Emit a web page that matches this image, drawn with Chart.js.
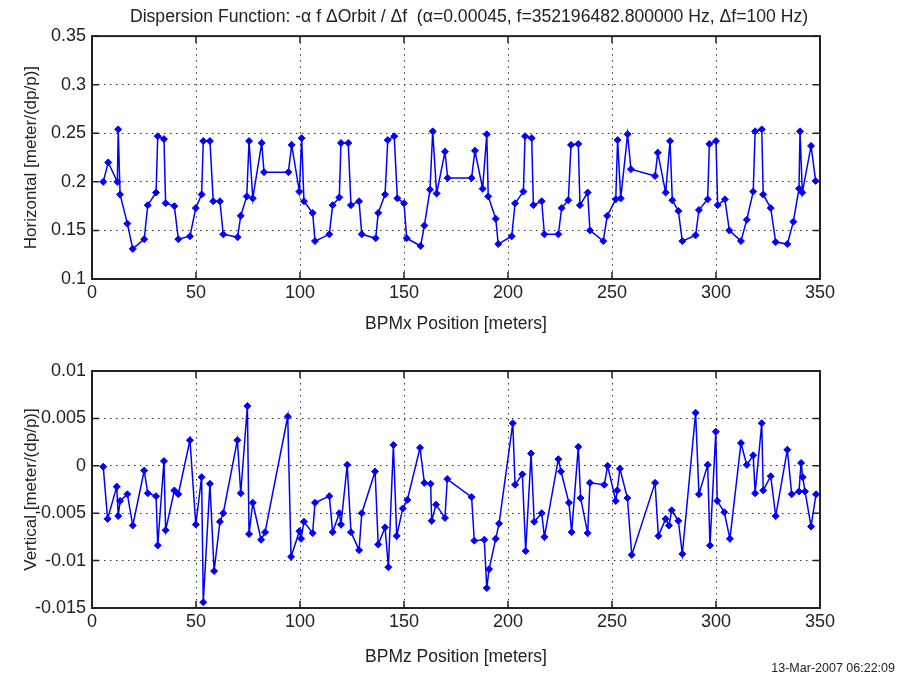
<!DOCTYPE html>
<html>
<head>
<meta charset="utf-8">
<script src="https://cdn.jsdelivr.net/npm/chart.js@4"></script>
<style>
  html, body { margin: 0; padding: 0; background: #fff; }
  #wrap { position: relative; width: 899px; height: 681px; }
  #topChart { position: absolute; left: 0; top: 0; }
  #botChart { position: absolute; left: 0; top: 340px; }
  #stamp { position: absolute; right: 4px; top: 661px; font: 12.5px "Liberation Sans", Arial, sans-serif; color: #222; }
</style>
</head>
<body>
<div id="wrap">
  <canvas id="topChart" width="899" height="340"></canvas>
  <canvas id="botChart" width="899" height="341"></canvas>
  <div id="stamp">13-Mar-2007 06:22:09</div>
</div>
<script>
// BPM positions [m] and dispersion
const posX = [5.4,7.8,12.2,12.6,13.5,17.0,19.6,25.1,26.8,30.8,
  31.6,34.6,35.4,39.6,41.5,47.1,49.9,52.7,53.5,56.7,
  58.3,61.5,63.1,70.0,71.5,74.4,75.5,77.3,81.6,82.7,
  94.4,96.0,99.7,100.8,101.9,106.1,107.2,114.1,115.7,118.9,
  119.7,123.2,124.5,128.4,129.7,136.4,137.6,140.9,142.2,145.3,
  146.8,150.0,151.3,158.0,159.8,162.5,163.8,165.7,169.7,171.0,
  182.5,184.1,187.8,189.8,190.5,194.1,195.3,201.8,203.4,207.4,
  208.2,211.4,212.2,216.2,217.5,224.2,225.8,229.0,230.3,233.8,
  234.6,238.3,239.4,245.8,247.7,251.8,252.7,254.2,257.5,259.1,
  270.7,272.0,275.8,277.9,279.0,281.9,283.8,290.2,291.8,296.0,
  296.8,300.0,300.8,304.3,306.4,312.0,314.8,317.9,318.8,322.0,
  322.7,326.3,328.7,334.3,337.2,339.9,340.4,341.5,345.7,347.9];
const horizontal = [0.200,0.220,0.200,0.254,0.187,0.157,0.131,0.141,0.176,0.189,
  0.247,0.244,0.178,0.175,0.141,0.144,0.173,0.187,0.242,0.242,
  0.180,0.180,0.146,0.143,0.165,0.185,0.242,0.183,0.240,0.210,
  0.210,0.238,0.190,0.245,0.180,0.168,0.139,0.146,0.176,0.184,
  0.240,0.240,0.176,0.180,0.146,0.142,0.168,0.187,0.243,0.247,
  0.183,0.178,0.142,0.134,0.155,0.192,0.252,0.188,0.231,0.204,
  0.204,0.232,0.193,0.249,0.185,0.162,0.136,0.144,0.178,0.190,
  0.247,0.245,0.176,0.180,0.146,0.146,0.173,0.181,0.238,0.239,
  0.176,0.189,0.150,0.139,0.165,0.182,0.243,0.183,0.249,0.213,
  0.206,0.230,0.189,0.242,0.181,0.170,0.139,0.145,0.171,0.182,
  0.239,0.242,0.176,0.182,0.150,0.139,0.161,0.190,0.252,0.254,
  0.187,0.173,0.138,0.136,0.159,0.193,0.252,0.189,0.237,0.201];

const posZ = [5.4,7.5,11.9,12.6,13.5,17.0,19.6,25.1,26.8,30.8,
  31.6,34.6,35.4,39.6,41.5,47.1,49.9,52.7,53.5,56.7,
  58.7,61.5,63.1,69.9,71.5,74.7,75.5,77.3,81.3,83.2,
  94.1,95.7,99.7,100.5,101.9,106.1,107.2,114.1,115.7,118.9,
  119.7,122.7,124.5,128.4,129.7,136.1,137.6,140.9,142.5,144.9,
  146.5,149.4,151.6,157.7,159.8,162.8,163.3,165.4,169.7,170.8,
  182.5,183.8,188.6,189.8,190.9,194.1,195.7,202.3,203.4,206.9,
  208.5,211.1,212.6,216.2,217.5,224.2,225.5,229.3,230.6,233.8,
  234.9,238.3,239.4,246.3,247.9,251.8,252.5,253.8,257.4,259.5,
  270.7,272.3,275.8,277.4,278.7,281.9,283.8,290.2,291.8,296.0,
  297.1,299.9,300.6,304.0,306.7,312.0,314.8,317.9,318.8,322.0,
  322.7,326.3,328.7,334.3,336.4,339.9,340.9,341.7,342.8,345.7,348.1];
const vertical = [-0.0001,-0.0056,-0.0022,-0.0053,-0.0037,-0.0030,-0.0063,-0.0005,-0.0029,-0.0032,
  -0.0084,0.0005,-0.0068,-0.0026,-0.0030,0.0027,-0.0062,-0.0012,-0.0144,-0.0019,
  -0.0111,-0.0059,-0.0050,0.0027,-0.0029,0.0063,-0.0072,-0.0039,-0.0078,-0.0070,
  0.0052,-0.0096,-0.0069,-0.0077,-0.0059,-0.0071,-0.0039,-0.0032,-0.0070,-0.0050,
  -0.0062,0.0001,-0.0070,-0.0089,-0.0050,-0.0006,-0.0083,-0.0065,-0.0107,0.0022,
  -0.0074,-0.0045,-0.0036,0.0019,-0.0018,-0.0019,-0.0058,-0.0041,-0.0055,-0.0014,
  -0.0033,-0.0079,-0.0078,-0.0129,-0.0109,-0.0077,-0.0061,0.0045,-0.0020,-0.0009,
  -0.0090,0.0013,-0.0059,-0.0050,-0.0075,0.0007,-0.0006,-0.0039,-0.0070,0.0020,
  -0.0034,-0.0071,-0.0018,-0.0020,0.0000,-0.0037,-0.0026,-0.0003,-0.0034,-0.0094,
  -0.0018,-0.0074,-0.0056,-0.0063,-0.0047,-0.0058,-0.0093,0.0056,-0.0030,0.0001,
  -0.0084,0.0036,-0.0037,-0.0049,-0.0077,0.0024,0.0001,0.0011,-0.0029,0.0045,
  -0.0026,-0.0011,-0.0053,0.0017,-0.0030,-0.0027,0.0003,-0.0012,-0.0027,-0.0064,-0.0030];

const xTicks = [0, 50, 100, 150, 200, 250, 300, 350];
const xTickLabels = ["0", "50", "100", "150", "200", "250", "300", "350"];
const yTicksTop = [0.1, 0.15, 0.2, 0.25, 0.3, 0.35];
const yTickLabelsTop = ["0.1", "0.15", "0.2", "0.25", "0.3", "0.35"];
const yTicksBot = [-0.015, -0.01, -0.005, 0, 0.005, 0.01];
const yTickLabelsBot = ["-0.015", "-0.01", "-0.005", "0", "0.005", "0.01"];

const FONT = "'Liberation Sans', Arial, sans-serif";
const INK = "#222";

// MATLAB style box with inward tick marks
const boxPlugin = {
    id: "box",
    afterLayout(chart) {
        // title sits a bit right of the plot centre in the original
        const t = chart.titleBlock;
        if (t && t.options.display) t.left += 26;
    },
    afterDraw(chart) {
        const { ctx, chartArea: a, scales } = chart;
        ctx.save();
        ctx.strokeStyle = INK;
        ctx.lineWidth = 1.5;
        ctx.beginPath();
        scales.x.ticks.forEach(t => {
            const px = scales.x.getPixelForValue(t.value);
            ctx.moveTo(px, a.bottom); ctx.lineTo(px, a.bottom - 7);
            ctx.moveTo(px, a.top);    ctx.lineTo(px, a.top + 7);
        });
        scales.y.ticks.forEach(t => {
            const py = scales.y.getPixelForValue(t.value);
            ctx.moveTo(a.left, py);  ctx.lineTo(a.left + 7, py);
            ctx.moveTo(a.right, py); ctx.lineTo(a.right - 7, py);
        });
        ctx.stroke();
        ctx.lineWidth = 2;
        ctx.strokeRect(a.left, a.top, a.right - a.left, a.bottom - a.top);
        ctx.restore();
    }
};

function makeChart(id, xs, ys, opt) {
    const ctx = document.getElementById(id).getContext("2d");
    return new Chart(ctx, {
        type: "line",
        data: {
            datasets: [{
                data: xs.map((x, i) => ({ x, y: ys[i] })),
                borderColor: "#0000ff",
                backgroundColor: "#0000ff",
                borderWidth: 1.5,
                pointStyle: "rectRot",
                pointRadius: 3.5,
                pointBorderWidth: 1,
                tension: 0
            }]
        },
        options: {
            responsive: false,
            animation: false,
            layout: { padding: { left: 0, right: 79, top: opt.padTop, bottom: 0 } },
            plugins: {
                legend: { display: false },
                tooltip: { enabled: false },
                title: opt.title ? {
                    display: true,
                    fullSize: false,
                    text: opt.title,
                    color: INK,
                    font: { family: FONT, size: 17.6, weight: "normal" },
                    padding: { top: 7, bottom: 8 }
                } : { display: false }
            },
            scales: {
                x: {
                    type: "linear",
                    min: 0, max: 350,
                    afterBuildTicks: s => { s.ticks = xTicks.map(v => ({ value: v })); },
                    afterFit: s => { s.height = opt.xHeight; },
                    ticks: {
                        color: INK, padding: 3,
                        font: { family: FONT, size: 18 },
                        callback: (v, i) => xTickLabels[i]
                    },
                    grid: { color: "#333", lineWidth: 1, drawTicks: false },
                    border: { display: false, dash: [1.5, 4.5] },
                    title: {
                        display: true, text: opt.xTitle, color: INK,
                        font: { family: FONT, size: 17.5 },
                        padding: { top: 0, bottom: opt.xTitlePad }
                    }
                },
                y: {
                    min: opt.yMin, max: opt.yMax,
                    afterBuildTicks: s => { s.ticks = opt.yTicks.map(v => ({ value: v })); },
                    afterFit: s => { s.width = 92; },
                    ticks: {
                        color: INK, padding: 6,
                        font: { family: FONT, size: 18 },
                        callback: (v, i) => opt.yLabels[i]
                    },
                    grid: { color: "#333", lineWidth: 1, drawTicks: false },
                    border: { display: false, dash: [1.5, 4.5] },
                    title: {
                        display: true, text: opt.yTitle, color: INK,
                        font: { family: FONT, size: 17 },
                        padding: { top: 21, bottom: 0 }
                    }
                }
            }
        },
        plugins: [boxPlugin]
    });
}

makeChart("topChart", posX, horizontal, {
    title: "Dispersion Function: -α f ΔOrbit / Δf  (α=0.00045, f=352196482.800000 Hz, Δf=100 Hz)",
    padTop: 0,
    xHeight: 61,
    xTitle: "BPMx Position [meters]",
    xTitlePad: 5,
    yTitle: "Horizontal [meter/(dp/p)]",
    yMin: 0.1, yMax: 0.35,
    yTicks: yTicksTop, yLabels: yTickLabelsTop
});

makeChart("botChart", posZ, vertical, {
    title: null,
    padTop: 31,
    xHeight: 73,
    xTitle: "BPMz Position [meters]",
    xTitlePad: 13,
    yTitle: "Vertical [meter/(dp/p)]",
    yMin: -0.015, yMax: 0.01,
    yTicks: yTicksBot, yLabels: yTickLabelsBot
});
</script>
</body>
</html>
